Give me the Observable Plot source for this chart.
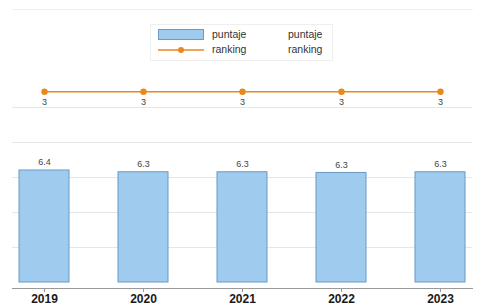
<!DOCTYPE html>
<html><head><meta charset="utf-8">
<script src="https://cdn.jsdelivr.net/npm/d3@7"></script>
<script src="https://cdn.jsdelivr.net/npm/@observablehq/plot@0.6"></script>
<style>
body{margin:0;background:#fff;font-family:"Liberation Sans",Arial,sans-serif;}
#wrap{position:relative;width:478px;height:307px;}
#legend{position:absolute;left:0;top:0;pointer-events:none;}
</style></head>
<body><div id="wrap"></div>
<script>
const years = ["2019", "2020", "2021", "2022", "2023"];
const puntaje = [6.4, 6.3, 6.3, 6.26, 6.3];
const puntajeLabels = ["6.4", "6.3", "6.3", "6.3", "6.3"];
const ranking = [3, 3, 3, 3, 3];
const gridTicks = [2, 4, 6, 8, 10];
const legendLabels = ["puntaje", "ranking"];

const data = years.map((y, i) => ({year: y, puntaje: puntaje[i], label: puntajeLabels[i], ranking: ranking[i]}));
// secondary (ranking) axis mapped onto the primary y scale
const rankAxis = d3.scaleLinear().domain([1, 10]).range([11.9, 7.4]);

const blueFill = "#9ecbee", blueStroke = "#6b9ac4", orange = "#e8891e";

const chart = Plot.plot({
  width: 478, height: 307,
  marginLeft: 12, marginRight: 6, marginTop: 9, marginBottom: 19,
  style: {fontFamily: "Liberation Sans, Arial, sans-serif", background: "#fff"},
  x: {domain: years, paddingInner: 0.495, paddingOuter: 0.07, label: null},
  y: {domain: [0, 15.6], insetBottom: 6, axis: null},
  marks: [
    Plot.gridY(gridTicks, {stroke: "#e6e6e6", strokeOpacity: 1, strokeWidth: 1}),
    Plot.frame({anchor: "top", stroke: "#f0f0f0"}),
    Plot.barY(data, {x: "year", y: "puntaje", fill: blueFill, stroke: blueStroke, strokeWidth: 1}),
    Plot.text(data, {x: "year", y: "puntaje", text: "label", dy: -8, fontSize: 9, fill: "#444"}),
    Plot.line(data, {x: "year", y: d => rankAxis(d.ranking), stroke: orange, strokeWidth: 1.5}),
    Plot.dot(data, {x: "year", y: d => rankAxis(d.ranking), r: 3.2, fill: orange, stroke: "none"}),
    Plot.text(data, {x: "year", y: d => rankAxis(d.ranking), text: d => String(d.ranking), dy: 10, fontSize: 9, fill: "#444"}),
    Plot.frame({anchor: "bottom", stroke: "#999"}),
    Plot.axisX({tickSize: 4, tickPadding: 2, fontSize: 12, fontWeight: 600, fill: "#1a1a1a", stroke: "#999", label: null})
  ]
});
const wrap = document.getElementById("wrap");
wrap.appendChild(chart);

// legend overlay
const lg = d3.select(wrap).append("svg").attr("id", "legend").attr("width", 478).attr("height", 70)
  .style("font-family", "Liberation Sans, Arial, sans-serif");
lg.append("rect").attr("x", 150.5).attr("y", 24.5).attr("width", 182).attr("height", 36)
  .attr("fill", "#fff").attr("stroke", "#efefef");
lg.append("rect").attr("x", 158.5).attr("y", 29.5).attr("width", 45).attr("height", 10)
  .attr("fill", blueFill).attr("stroke", blueStroke);
lg.append("line").attr("x1", 158).attr("x2", 204).attr("y1", 50).attr("y2", 50)
  .attr("stroke", orange).attr("stroke-width", 1.5);
lg.append("circle").attr("cx", 181).attr("cy", 50).attr("r", 3).attr("fill", orange);
legendLabels.forEach((t, i) => {
  lg.append("text").attr("x", 212).attr("y", 38 + i * 15).attr("font-size", 10.5).attr("fill", "#333").text(t);
  lg.append("text").attr("x", 288).attr("y", 38 + i * 15).attr("font-size", 10.5).attr("fill", "#333").text(t);
});
</script></body></html>
